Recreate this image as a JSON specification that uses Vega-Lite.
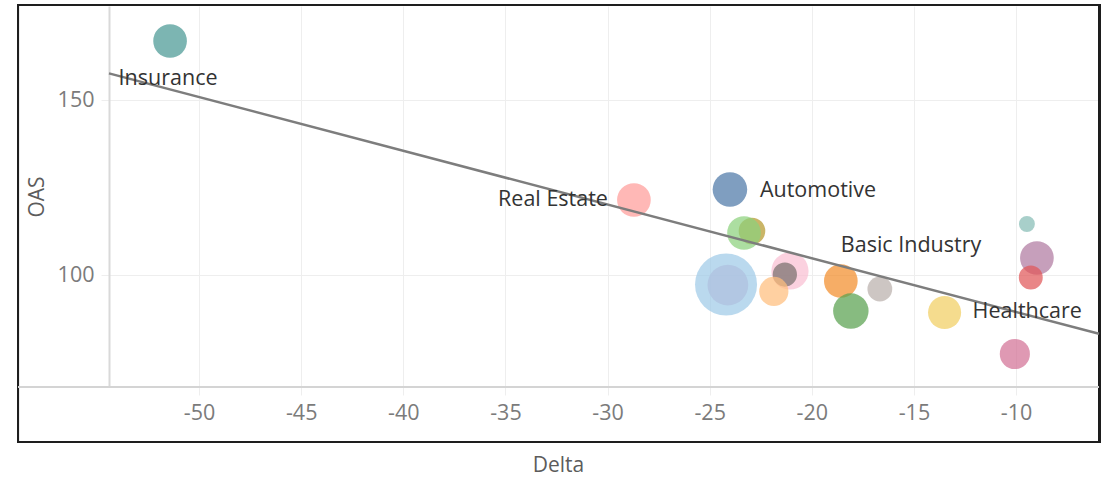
{
  "$schema": "https://vega.github.io/schema/vega-lite/v6.json",
  "autosize": {"type": "none"},
  "padding": {"left": 109, "top": 6, "right": 10, "bottom": 90},
  "width": 990,
  "height": 381,
  "background": "white",
  "config": {
    "view": {"stroke": null},
    "font": "Open Sans",
    "axis": {"labelFont": "Open Sans", "titleFont": "Open Sans"}
  },
  "data": {
    "values": [
      {"Sector": "Insurance", "Delta": -51.42, "OAS": 166.86, "Weight": 29.5},
      {"Sector": "Real Estate", "Delta": -28.71, "OAS": 121.43, "Weight": 29.5},
      {"Sector": "Automotive", "Delta": -24.01, "OAS": 124.43, "Weight": 31.0},
      {"Sector": "Capital Goods", "Delta": -22.93, "OAS": 112.57, "Weight": 18.4},
      {"Sector": "Consumer Products", "Delta": -23.32, "OAS": 112.0, "Weight": 29.5},
      {"Sector": "Financial Services", "Delta": -24.11, "OAS": 97.14, "Weight": 43.2},
      {"Sector": "Banking", "Delta": -24.2, "OAS": 97.29, "Weight": 100},
      {"Sector": "Media", "Delta": -21.07, "OAS": 101.14, "Weight": 36.0},
      {"Sector": "Leisure", "Delta": -21.32, "OAS": 100.14, "Weight": 15.3},
      {"Sector": "Energy", "Delta": -21.86, "OAS": 95.29, "Weight": 22.2},
      {"Sector": "Basic Industry", "Delta": -18.58, "OAS": 98.29, "Weight": 29.5},
      {"Sector": "Utility", "Delta": -18.09, "OAS": 89.71, "Weight": 32.7},
      {"Sector": "Retail", "Delta": -16.67, "OAS": 96.0, "Weight": 16.0},
      {"Sector": "Healthcare", "Delta": -13.5, "OAS": 89.29, "Weight": 28.5},
      {"Sector": "Telecommunications", "Delta": -10.06, "OAS": 77.43, "Weight": 23.6},
      {"Sector": "Transportation", "Delta": -9.47, "OAS": 114.57, "Weight": 6.6},
      {"Sector": "Services", "Delta": -8.98, "OAS": 104.86, "Weight": 29.5},
      {"Sector": "Technology", "Delta": -9.28, "OAS": 99.29, "Weight": 14.9}
    ]
  },
  "layer": [
    {
      "mark": {"type": "rect", "fillOpacity": 0, "stroke": "#1e1e1e", "strokeWidth": 2},
      "encoding": {
        "x": {"datum": -58.865, "type": "quantitative", "title": "Delta", "scale": {"domain": [-54.41, -5.94], "nice": false, "zero": false}},
        "x2": {"datum": -5.92},
        "y": {"datum": 177.15, "type": "quantitative", "title": "OAS", "scale": {"domain": [68, 176.86], "nice": false, "zero": false}},
        "y2": {"datum": 52.29}
      }
    },
    {
      "mark": {"type": "rule", "color": "#d4d4d4", "strokeWidth": 2},
      "encoding": {
        "x": {"datum": -58.865, "type": "quantitative", "title": "Delta"},
        "x2": {"datum": -5.94},
        "y": {"datum": 68, "type": "quantitative", "title": "OAS"}
      }
    },
    {
      "mark": {"type": "circle", "opacity": 0.72, "stroke": null},
      "encoding": {
        "x": {
          "field": "Delta", "type": "quantitative", "title": "Delta",
          "scale": {"domain": [-54.41, -5.94], "nice": false, "zero": false},
          "axis": {
            "values": [-50, -45, -40, -35, -30, -25, -20, -15, -10],
            "labelExpr": "replace(datum.label, '\u2212', '-')",
            "domain": false, "grid": true, "gridColor": "#eeeeee", "gridWidth": 1,
            "ticks": true, "tickSize": 8, "tickColor": "#eeeeee",
            "labelFontSize": 21.5, "labelColor": "#7b7b7b", "labelPadding": 7,
            "titleFontSize": 21, "titleFontWeight": "normal", "titleColor": "#5c5c5c",
            "titlePadding": 31, "titleX": 449
          }
        },
        "y": {
          "field": "OAS", "type": "quantitative", "title": "OAS",
          "scale": {"domain": [68, 176.86], "nice": false, "zero": false},
          "axis": {
            "values": [100, 150],
            "domain": true, "domainColor": "#d9d9d9", "domainWidth": 2,
            "grid": true, "gridColor": "#eeeeee", "gridWidth": 1,
            "ticks": true, "tickSize": 8, "tickColor": "#eeeeee",
            "labelFontSize": 21.5, "labelColor": "#7b7b7b", "labelPadding": 7,
            "titleFontSize": 21, "titleFontWeight": "normal", "titleColor": "#5c5c5c",
            "titlePadding": 10
          }
        },
        "size": {
          "field": "Weight", "type": "quantitative",
          "scale": {"type": "linear", "domain": [0, 100], "range": [0, 3848], "zero": true},
          "legend": null
        },
        "color": {
          "field": "Sector", "type": "nominal", "legend": null,
          "scale": {
            "domain": ["Insurance", "Real Estate", "Automotive", "Capital Goods", "Consumer Products", "Financial Services", "Banking", "Media", "Leisure", "Energy", "Basic Industry", "Utility", "Retail", "Healthcare", "Telecommunications", "Transportation", "Services", "Technology"],
            "range": ["#499894", "#FF9D9A", "#4E79A7", "#B6992D", "#8CD17D", "#D4A6C8", "#A0CBE8", "#FABFD2", "#79706E", "#FFBE7D", "#F28E2B", "#59A14F", "#BAB0AC", "#F1CE63", "#D37295", "#86BCB6", "#B07AA1", "#E15759"]
          }
        }
      }
    },
    {
      "transform": [{"regression": "OAS", "on": "Delta", "extent": [-54.41, -5.94]}],
      "mark": {"type": "line", "color": "#7d7d7d", "strokeWidth": 2.5},
      "encoding": {
        "x": {"field": "Delta", "type": "quantitative", "title": "Delta"},
        "y": {"field": "OAS", "type": "quantitative", "title": "OAS"}
      }
    },
    {
      "transform": [{"filter": "datum.Sector === 'Insurance'"}],
      "mark": {"type": "text", "align": "center", "baseline": "middle", "dx": -2, "dy": 38, "fontSize": 21.5, "color": "#333333"},
      "encoding": {
        "x": {"field": "Delta", "type": "quantitative"},
        "y": {"field": "OAS", "type": "quantitative"},
        "text": {"field": "Sector"}
      }
    },
    {
      "transform": [{"filter": "datum.Sector === 'Real Estate'"}],
      "mark": {"type": "text", "align": "right", "baseline": "middle", "dx": -26, "dy": 0, "fontSize": 21.5, "color": "#333333"},
      "encoding": {
        "x": {"field": "Delta", "type": "quantitative"},
        "y": {"field": "OAS", "type": "quantitative"},
        "text": {"field": "Sector"}
      }
    },
    {
      "transform": [{"filter": "datum.Sector === 'Automotive'"}],
      "mark": {"type": "text", "align": "left", "baseline": "middle", "dx": 30, "dy": 1, "fontSize": 21.5, "color": "#333333"},
      "encoding": {
        "x": {"field": "Delta", "type": "quantitative"},
        "y": {"field": "OAS", "type": "quantitative"},
        "text": {"field": "Sector"}
      }
    },
    {
      "transform": [{"filter": "datum.Sector === 'Basic Industry'"}],
      "mark": {"type": "text", "align": "left", "baseline": "middle", "dx": 0, "dy": -35, "fontSize": 21.5, "color": "#333333"},
      "encoding": {
        "x": {"field": "Delta", "type": "quantitative"},
        "y": {"field": "OAS", "type": "quantitative"},
        "text": {"field": "Sector"}
      }
    },
    {
      "transform": [{"filter": "datum.Sector === 'Healthcare'"}],
      "mark": {"type": "text", "align": "left", "baseline": "middle", "dx": 28, "dy": 0, "fontSize": 21.5, "color": "#333333"},
      "encoding": {
        "x": {"field": "Delta", "type": "quantitative"},
        "y": {"field": "OAS", "type": "quantitative"},
        "text": {"field": "Sector"}
      }
    }
  ]
}
